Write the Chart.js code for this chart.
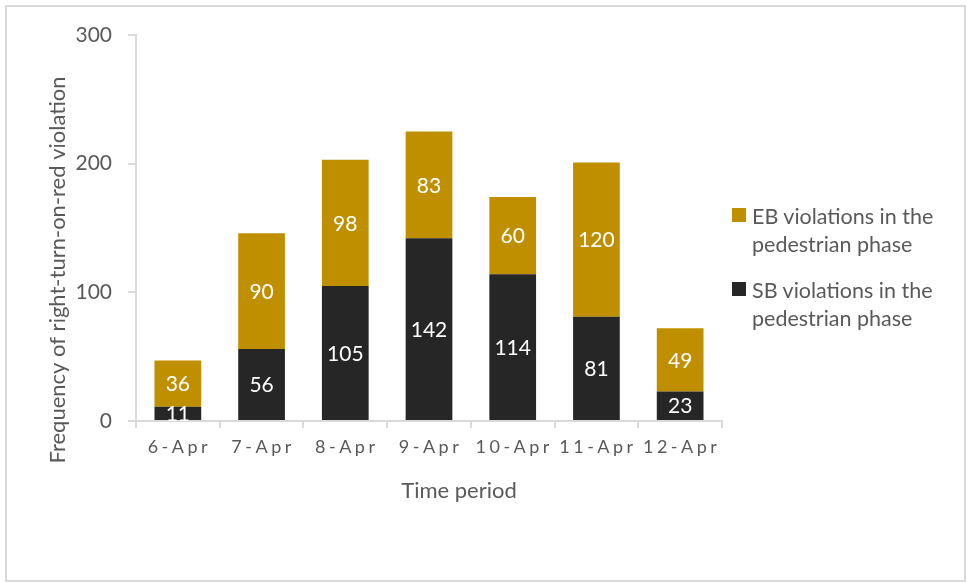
<!DOCTYPE html>
<html>
<head>
<meta charset="utf-8">
<script src="https://cdn.jsdelivr.net/npm/chart.js@4/dist/chart.umd.min.js"></script>
<style>
  html, body { margin: 0; padding: 0; background: #fff; }
  #wrap { position: relative; width: 967px; height: 583px; overflow: hidden; }
  #frame { position: absolute; left: 5px; top: 5px; width: 961px; height: 577px;
           box-sizing: border-box; border: 2px solid #d9d9d9; }
  #chart { position: absolute; left: 0; top: 0; }
  #legend { position: absolute; left: 732px; top: 202px; font-family: Lato, "Open Sans", sans-serif;
            font-size: 21.5px; line-height: 28px; color: #595959; }
  .item { position: relative; padding-left: 20px; margin-bottom: 18px; }
  .swatch { position: absolute; left: 0; top: 6px; width: 14px; height: 14px; }
</style>
</head>
<body>
<div id="wrap">
  <div id="frame"></div>
  <canvas id="chart" width="967" height="583"></canvas>
  <div id="legend"></div>
</div>
<script>
// Daily right-turn-on-red violation counts, by approach
const days = ['6-Apr', '7-Apr', '8-Apr', '9-Apr', '10-Apr', '11-Apr', '12-Apr'];
const sbViolations = [11, 56, 105, 142, 114, 81, 23];
const ebViolations = [36, 90, 98, 83, 60, 120, 49];
const yTicks = [0, 100, 200, 300];

const sbLabel = ['SB violations in the', 'pedestrian phase'];
const ebLabel = ['EB violations in the', 'pedestrian phase'];

const GOLD = '#bf8f00';
const DARK = '#262626';
const TEXT = '#595959';
const AXIS = '#d9d9d9';
const FONT = 'Lato, "Open Sans", sans-serif';

// White value labels centred in each stacked segment
const segmentLabels = {
  id: 'segmentLabels',
  afterDatasetsDraw(chart) {
    const { ctx, chartArea } = chart;
    ctx.save();
    ctx.beginPath();
    ctx.rect(chartArea.left, chartArea.top, chartArea.right - chartArea.left, chartArea.bottom - chartArea.top);
    ctx.clip();
    ctx.fillStyle = '#ffffff';
    ctx.font = '21px ' + FONT;
    ctx.textAlign = 'center';
    ctx.textBaseline = 'middle';
    chart.data.datasets.forEach((ds, di) => {
      const meta = chart.getDatasetMeta(di);
      meta.data.forEach((bar, i) => {
        const { x, y, base } = bar.getProps(['x', 'y', 'base'], true);
        ctx.fillText(String(ds.data[i]), x, (y + base) / 2 + 1);
      });
    });
    ctx.restore();
  }
};

// Shift a scale's title by a fixed offset
function offsetTitle(scale, dx, dy) {
  const orig = scale.drawTitle.bind(scale);
  scale.drawTitle = function () {
    const ctx = scale.ctx;
    ctx.save();
    ctx.translate(dx, dy);
    orig();
    ctx.restore();
  };
}

// Spaced-out category lettering, and both axis titles nudged into place
const axisTweaks = {
  id: 'axisTweaks',
  afterLayout(chart) {
    const xs = chart.scales.x;
    if (xs && !xs._tweaked) {
      const orig = xs.drawLabels.bind(xs);
      xs.drawLabels = function (area) {
        const ctx = chart.ctx;
        ctx.save();
        ctx.letterSpacing = '3.5px';
        ctx.translate(1.5, 0);
        orig(area);
        ctx.restore();
      };
      offsetTitle(xs, 30, 0);
      xs._tweaked = true;
    }
    const ys = chart.scales.y;
    if (ys && !ys._tweaked) {
      offsetTitle(ys, 0, 42);
      ys._tweaked = true;
    }
  }
};

const chart = new Chart(document.getElementById('chart'), {
  type: 'bar',
  data: {
    labels: days,
    datasets: [
      { label: sbLabel.join(' '), data: sbViolations, backgroundColor: DARK, borderWidth: 0 },
      { label: ebLabel.join(' '), data: ebViolations, backgroundColor: GOLD, borderWidth: 0 }
    ]
  },
  options: {
    responsive: false,
    animation: false,
    events: [],
    layout: { padding: { top: 35, right: 245, left: 0, bottom: 60 } },
    datasets: { bar: { categoryPercentage: 1, barPercentage: 0.558 } },
    plugins: { legend: { display: false }, tooltip: { enabled: false } },
    scales: {
      x: {
        stacked: true,
        afterFit(scale) { scale.height = 583 - 421 - 60; },
        border: { display: true, color: AXIS, width: 2 },
        grid: { display: true, drawOnChartArea: false, drawTicks: true, tickLength: 7, color: AXIS, lineWidth: 2, offset: true },
        ticks: { color: TEXT, font: { family: FONT, size: 18 }, padding: 8, maxRotation: 0 },
        title: { display: true, text: 'Time period', color: TEXT, font: { family: FONT, size: 22 }, padding: { top: 0, bottom: 19 } }
      },
      y: {
        stacked: true,
        min: 0,
        max: 300,
        afterFit(scale) { scale.width = 136; },
        afterBuildTicks(scale) { scale.ticks = yTicks.map(v => ({ value: v })); },
        border: { display: true, color: AXIS, width: 2 },
        grid: { display: true, drawOnChartArea: false, drawTicks: true, tickLength: 8, color: AXIS, lineWidth: 2 },
        ticks: { color: TEXT, font: { family: FONT, size: 21 }, padding: 16 },
        title: { display: true, text: 'Frequency of right-turn-on-red violation', color: TEXT, font: { family: FONT, size: 22 }, padding: { top: 45, bottom: 0 } }
      }
    }
  },
  plugins: [segmentLabels, axisTweaks]
});
chart.draw();

// Legend: top segment listed first, each label on two lines
const legendEl = document.getElementById('legend');
[[ebLabel, GOLD], [sbLabel, DARK]].forEach(([lines, color]) => {
  const item = document.createElement('div');
  item.className = 'item';
  const sw = document.createElement('div');
  sw.className = 'swatch';
  sw.style.background = color;
  item.appendChild(sw);
  lines.forEach(t => {
    const line = document.createElement('div');
    line.textContent = t;
    item.appendChild(line);
  });
  legendEl.appendChild(item);
});
</script>
</body>
</html>
